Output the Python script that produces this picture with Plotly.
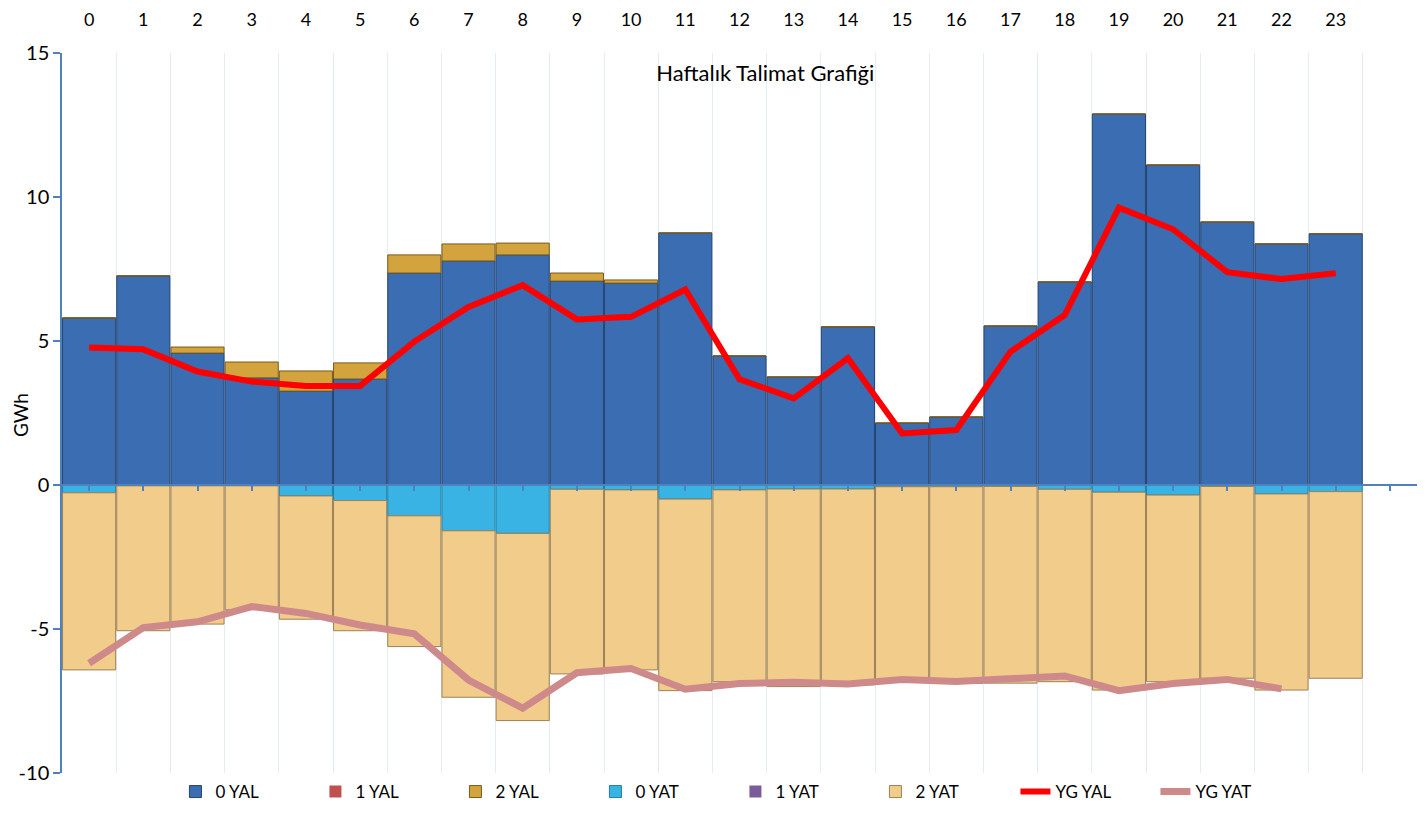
import plotly.graph_objects as go

hours = list(range(24))
hour_labels = [str(h) for h in hours]
y_ticks = [-10, -5, 0, 5, 10, 15]
y_tick_labels = ["-10", "-5", "0", "5", "10", "15"]

yal0 = [5.80, 7.26, 4.58, 3.72, 3.26, 3.68, 7.36, 7.78, 7.99, 7.08, 7.01, 8.75,
        4.48, 3.75, 5.49, 2.15, 2.36, 5.52, 7.05, 12.88, 11.11, 9.13, 8.37, 8.72]
yal1 = [0.0] * 24
yal2 = [0.0, 0.0, 0.21, 0.55, 0.70, 0.56, 0.63, 0.59, 0.41, 0.28, 0.11, 0.0,
        0.0, 0.0, 0.0, 0.0, 0.0, 0.0, 0.0, 0.0, 0.0, 0.0, 0.0, 0.0]
yat0 = [-0.27, -0.03, -0.03, -0.03, -0.38, -0.54, -1.07, -1.59, -1.68, -0.15, -0.17, -0.49,
        -0.17, -0.14, -0.14, -0.06, -0.06, -0.05, -0.15, -0.25, -0.35, -0.05, -0.31, -0.23]
yat1 = [0.0] * 24
yat2 = [-6.15, -5.03, -4.80, -4.30, -4.28, -4.52, -4.54, -5.78, -6.50, -6.41, -6.25, -6.65,
        -6.66, -6.86, -6.80, -6.71, -6.83, -6.83, -6.68, -6.87, -6.48, -6.66, -6.81, -6.48]
yg_yal = [4.77, 4.71, 3.94, 3.59, 3.44, 3.44, 4.98, 6.18, 6.94, 5.75, 5.84, 6.79,
          3.67, 3.01, 4.40, 1.79, 1.91, 4.63, 5.90, 9.63, 8.88, 7.39, 7.15, 7.35]
yg_yat = [-6.19, -4.95, -4.75, -4.22, -4.46, -4.86, -5.17, -6.77, -7.75, -6.52, -6.37, -7.09,
          -6.89, -6.85, -6.91, -6.75, -6.82, -6.75, -6.63, -7.14, -6.89, -6.75, -7.08]

FONT = "Lato"
AXIS_BLUE = "#4F81BD"

fig = go.Figure()

bar_specs = [
    ("0 YAL", yal0, "#3A6DB2", "#24436E", 1),
    ("1 YAL", yal1, "#C0504D", "#7A2E2C", 0),
    ("2 YAL", yal2, "#D3A33D", "#7A5A1C", 1),
    ("0 YAT", yat0, "#38B3E3", "#1E7FA8", 1),
    ("1 YAT", yat1, "#7A5C9C", "#4A3566", 0),
    ("2 YAT", yat2, "#F2CC8A", "#9C8257", 1),
]
for name, vals, col, edge, lw in bar_specs:
    fig.add_trace(go.Bar(
        x=hours, y=vals, name=name, xaxis="x", yaxis="y",
        marker=dict(color=col, line=dict(color=edge, width=lw)),
    ))

fig.add_trace(go.Scatter(
    x=hours, y=yg_yal, name="YG YAL", mode="lines", xaxis="x2", yaxis="y",
    line=dict(color="#FF0000", width=6),
))
fig.add_trace(go.Scatter(
    x=hours[:len(yg_yat)], y=yg_yat, name="YG YAT", mode="lines", xaxis="x2", yaxis="y",
    line=dict(color="#CE8A8A", width=7),
))

xr = [-0.5, 24.5]
W, H = 1410, 800
fig.update_layout(
    width=W, height=H,
    margin=dict(l=54, r=1, t=45, b=35, autoexpand=False),
    paper_bgcolor="white", plot_bgcolor="white",
    barmode="relative", bargap=0.02,
    font=dict(family=FONT, size=18, color="black"),
    title=dict(text="Haftalık Talimat Grafiği", x=0.519, xref="paper", xanchor="center",
               y=1 - 65 / H, yref="container", yanchor="middle",
               font=dict(family=FONT, size=22, color="black")),
    xaxis=dict(
        range=xr, anchor="free", position=0.4, side="bottom", automargin=False,
        tickmode="array", tickvals=list(range(25)), showticklabels=False,
        ticks="outside", ticklen=5, tickcolor=AXIS_BLUE, tickwidth=1.5,
        showline=True, linecolor=AXIS_BLUE, linewidth=1.5,
        showgrid=False, zeroline=False,
        minor=dict(tickmode="array", tickvals=[k + 0.5 for k in range(24)],
                   showgrid=True, gridcolor="#E4ECF6", gridwidth=1, ticks=""),
    ),
    xaxis2=dict(
        range=xr, overlaying="x", side="top", anchor="y", automargin=False,
        tickmode="array", tickvals=hours, ticktext=hour_labels,
        ticks="", ticklabelstandoff=22, showline=False, showgrid=False, zeroline=False,
        tickfont=dict(family=FONT, size=18, color="black"),
    ),
    yaxis=dict(
        range=[-10, 15], tickmode="array", tickvals=y_ticks, ticktext=y_tick_labels,
        ticks="outside", ticklen=7, tickcolor=AXIS_BLUE, tickwidth=1.5, automargin=False,
        showline=True, linecolor=AXIS_BLUE, linewidth=1.5,
        showgrid=False, zeroline=False,
        tickfont=dict(family=FONT, size=20, color="black"),
    ),
    annotations=[dict(
        text="GWh", textangle=-90, xref="paper", yref="paper",
        x=-42 / 1356, y=(765 - 407) / 720, xanchor="center", yanchor="middle",
        showarrow=False, font=dict(family=FONT, size=19, color="black"),
    )],
    legend=dict(
        orientation="h", x=0.497, xanchor="center", y=-19 / 720, yanchor="middle",
        traceorder="normal", font=dict(family=FONT, size=17, color="black"),
        entrywidth=95, entrywidthmode="pixels", itemwidth=30,
        bgcolor="rgba(0,0,0,0)",
    ),
)

fig.write_html("out.html")
